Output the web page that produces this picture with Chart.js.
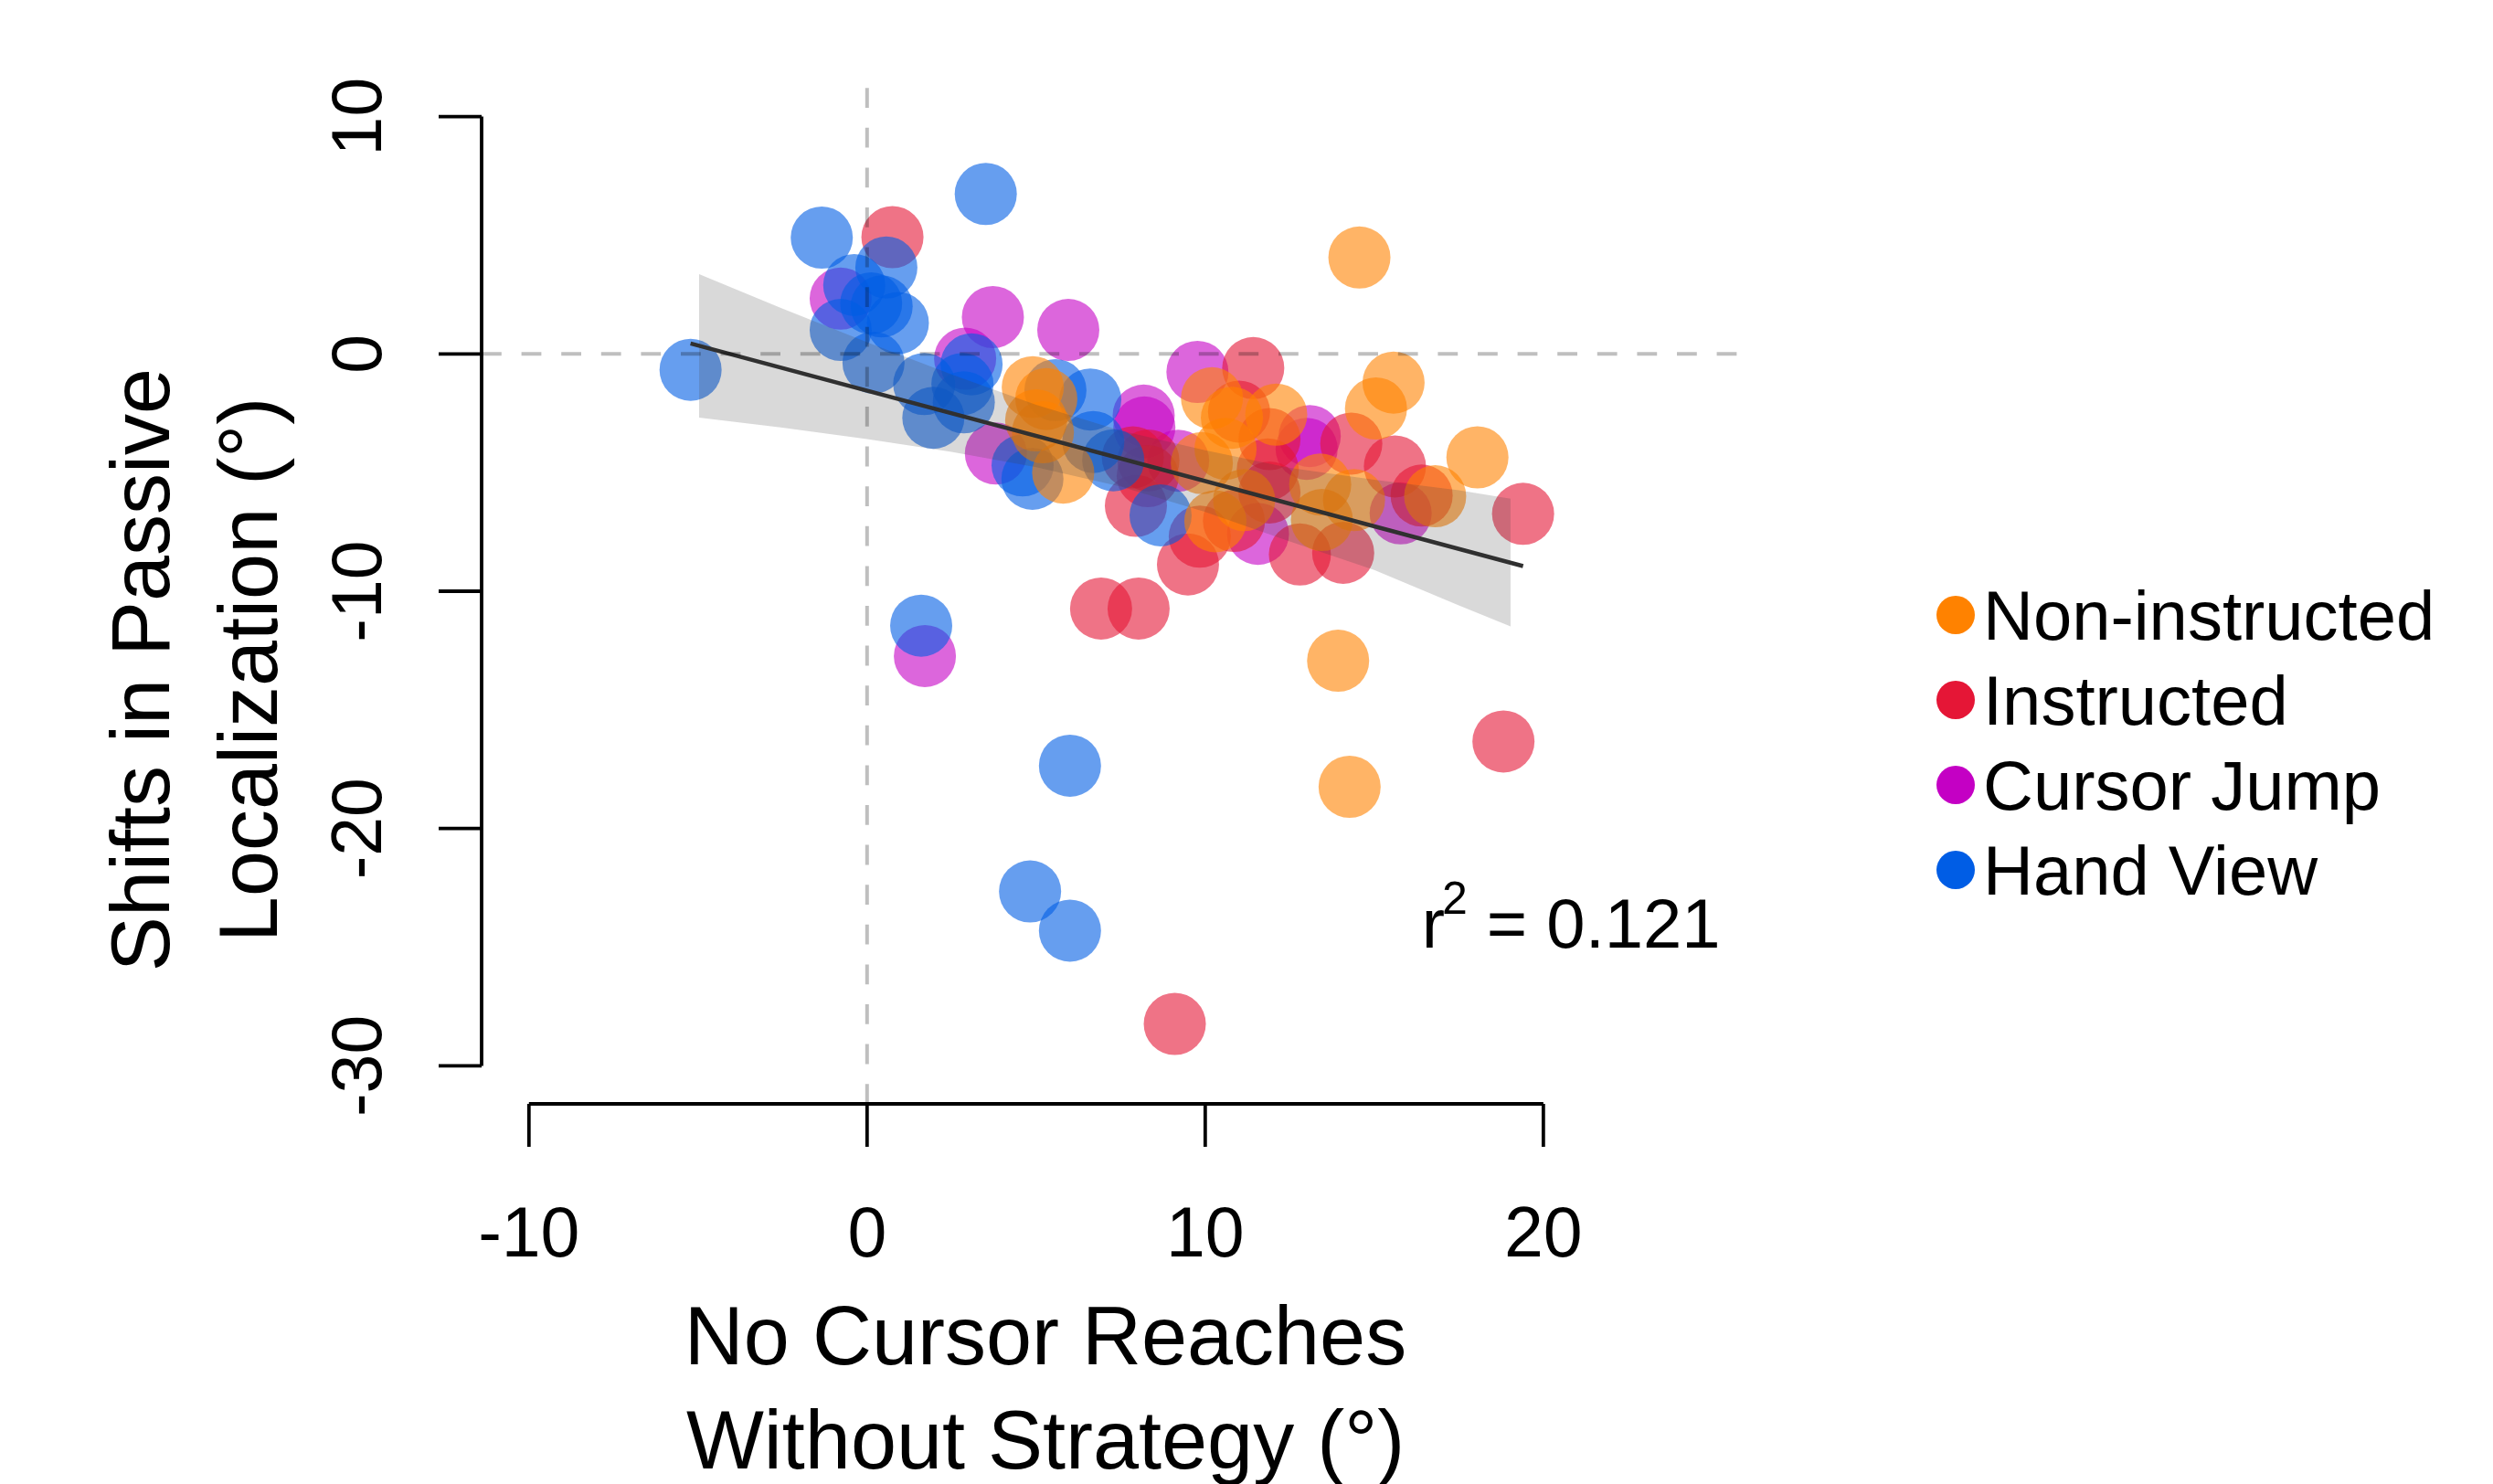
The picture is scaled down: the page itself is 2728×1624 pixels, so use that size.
<!DOCTYPE html>
<html>
<head>
<meta charset="utf-8">
<script src="https://cdn.jsdelivr.net/npm/chart.js@4.4.1/dist/chart.umd.min.js"></script>
<style>
    html, body { margin: 0; padding: 0; background: #ffffff; }
    #wrap { width: 2728px; height: 1624px; }
</style>
</head>
<body>
<div id="wrap"><canvas id="myChart" width="2728" height="1624"></canvas></div>
<script>
// values
var groupNames = ['Non-instructed', 'Instructed', 'Cursor Jump', 'Hand View'];
var groupColors = ['#FF8200', '#E51636', '#C400C4', '#005DE5'];

var nonInstructedX = [14.56, 15.57, 15.05, 18.05, 13.93, 14.27, 16.8, 13.4, 14.4, 13.45, 4.9, 5.3, 5.0, 5.2, 5.8, 10.2, 10.79, 12.1, 10.6, 9.9, 11.15, 10.3];
var nonInstructedY = [4.06, -1.21, -2.3, -4.36, -12.93, -18.24, -6.0, -5.5, -6.16, -7.0, -1.4, -1.9, -2.8, -3.3, -5.0, -1.87, -2.69, -2.56, -4.0, -4.6, -6.16, -7.05];

var instructedX = [0.75, 11.42, 6.92, 8.03, 9.1, 18.82, 19.4, 14.32, 15.61, 16.4, 12.8, 14.08, 7.86, 8.32, 7.95, 9.49, 11.0, 11.9, 11.85, 10.85, 8.3, 11.9, 9.84];
var instructedY = [4.92, -0.6, -10.73, -10.73, -28.23, -16.33, -6.74, -3.78, -4.74, -5.97, -8.45, -8.38, -4.36, -4.49, -6.4, -8.87, -2.43, -3.59, -4.87, -7.04, -5.15, -5.84, -7.7];

var cursorJumpX = [-0.78, 3.72, 5.95, 1.71, 3.81, 9.77, 8.18, 8.2, 13.09, 13.0, 15.78, 11.56, 9.2, 2.9];
var cursorJumpY = [2.33, 1.55, 1.01, -12.73, -4.2, -0.76, -2.6, -3.1, -3.46, -4.0, -6.72, -7.58, -4.5, -0.2];

var handViewX = [-5.22, -1.34, 3.51, -0.38, 0.57, 0.12, 0.43, 0.91, -0.78, 0.19, 1.69, 1.96, 3.09, 2.82, 2.86, 4.89, 4.6, 5.57, 6.6, 6.69, 7.28, 8.68, 1.6, 6.0, 4.82, 6.0];
var handViewY = [-0.67, 4.90, 6.74, 2.90, 3.64, 2.13, 2.0, 1.30, 1.01, -0.37, -1.27, -2.69, -0.44, -1.27, -2.04, -5.26, -4.7, -1.53, -1.92, -3.71, -4.48, -6.8, -11.45, -17.35, -22.65, -24.3];

// regression line and its band
var fitX = [-5.22, 19.4];
var fitY = [0.44, -8.94];
var bandX = [-4.97, -2.5, 0, 2.5, 5, 7.5, 10, 12.5, 15, 17.5, 19.03];
var bandUpper = [3.36, 1.91, 0.49, -0.87, -2.15, -3.23, -4.06, -4.8, -5.3, -5.75, -6.1];
var bandLower = [-2.68, -3.11, -3.59, -4.13, -4.77, -5.59, -6.66, -7.9, -9.1, -10.6, -11.48];

var xTicks = [-10, 0, 10, 20];
var yTicks = [10, 0, -10, -20, -30];
var xTitle = ['No Cursor Reaches', 'Without Strategy (°)'];
var yTitle = ['Shifts in Passive', 'Localization (°)'];
var r2Value = '0.121';

var FONT = '"Liberation Sans", Arial, Helvetica, sans-serif';

function zip(xs, ys) {
    return xs.map(function(x, i) { return {x: x, y: ys[i]}; });
}

function withAlpha(hex, a) {
    var n = parseInt(hex.slice(1), 16);
    return 'rgba(' + (n >> 16) + ',' + ((n >> 8) & 255) + ',' + (n & 255) + ',' + a + ')';
}

function rotText(ctx, str, x, y, size) {
    // vertical text reading bottom to top, (x,y) = centre of the cap height
    ctx.save();
    ctx.translate(x, y);
    ctx.rotate(-Math.PI / 2);
    ctx.font = size + 'px ' + FONT;
    ctx.textAlign = 'center';
    ctx.textBaseline = 'alphabetic';
    ctx.fillText(str, 0, size * 0.358);
    ctx.restore();
}

function flatText(ctx, str, x, y, size, align) {
    ctx.font = size + 'px ' + FONT;
    ctx.textAlign = align || 'center';
    ctx.textBaseline = 'alphabetic';
    ctx.fillText(str, x, y + size * 0.358);
}

var rPlot = {
    id: 'rPlot',
    afterDatasetsDraw: function(chart) {
        var ctx = chart.ctx, xs = chart.scales.x, ys = chart.scales.y;
        ctx.save();
        ctx.strokeStyle = 'rgba(0,0,0,0.25)';
        ctx.lineWidth = 4;
        ctx.setLineDash([21.8, 21.8]);
        ctx.beginPath();
        ctx.moveTo(xs.getPixelForValue(xs.min), ys.getPixelForValue(0));
        ctx.lineTo(xs.getPixelForValue(xs.max), ys.getPixelForValue(0));
        ctx.stroke();
        ctx.beginPath();
        ctx.moveTo(xs.getPixelForValue(0), ys.getPixelForValue(ys.min));
        ctx.lineTo(xs.getPixelForValue(0), ys.getPixelForValue(ys.max));
        ctx.stroke();
        ctx.restore();
    },
    afterDraw: function(chart) {
        var ctx = chart.ctx, xs = chart.scales.x, ys = chart.scales.y;
        var area = chart.chartArea;
        ctx.save();
        ctx.strokeStyle = '#000';
        ctx.fillStyle = '#000';
        ctx.lineWidth = 3.8;
        ctx.lineCap = 'butt';

        // y axis
        var ax = area.left;
        ctx.beginPath();
        ctx.moveTo(ax, ys.getPixelForValue(yTicks[0]));
        ctx.lineTo(ax, ys.getPixelForValue(yTicks[yTicks.length - 1]));
        ctx.stroke();
        yTicks.forEach(function(t) {
            var py = ys.getPixelForValue(t);
            ctx.beginPath();
            ctx.moveTo(ax, py);
            ctx.lineTo(ax - 47, py);
            ctx.stroke();
            rotText(ctx, String(t), ax - 138, py, 77);
        });

        // x axis
        var ay = area.bottom;
        ctx.beginPath();
        ctx.moveTo(xs.getPixelForValue(xTicks[0]), ay);
        ctx.lineTo(xs.getPixelForValue(xTicks[xTicks.length - 1]), ay);
        ctx.stroke();
        xTicks.forEach(function(t) {
            var px = xs.getPixelForValue(t);
            ctx.beginPath();
            ctx.moveTo(px, ay);
            ctx.lineTo(px, ay + 47);
            ctx.stroke();
            flatText(ctx, String(t), px, ay + 139, 77);
        });

        // axis titles
        flatText(ctx, xTitle[0], 1144, 1461, 90);
        flatText(ctx, xTitle[1], 1144, 1575, 90);
        rotText(ctx, yTitle[0], 153, 733, 90);
        rotText(ctx, yTitle[1], 271, 733, 90);

        // r squared
        var left = xs.getPixelForValue(16.4);
        var base = ys.getPixelForValue(-25.02);
        ctx.textAlign = 'left';
        ctx.textBaseline = 'alphabetic';
        ctx.font = '76px ' + FONT;
        ctx.fillText('r', left, base);
        var wr = ctx.measureText('r').width;
        ctx.font = '50px ' + FONT;
        ctx.fillText('2', left + wr - 3, base - 37);
        var w2 = ctx.measureText('2').width;
        ctx.font = '76px ' + FONT;
        ctx.fillText(' = ' + r2Value, left + wr - 3 + w2, base);

        // legend
        var ly = [673, 766, 859, 952];
        groupNames.forEach(function(name, i) {
            ctx.fillStyle = groupColors[i];
            ctx.beginPath();
            ctx.arc(2140, ly[i], 21, 0, Math.PI * 2);
            ctx.fill();
            ctx.fillStyle = '#000';
            flatText(ctx, name, 2170, ly[i], 76, 'left');
        });
        ctx.restore();
    }
};

function pointSet(label, xs, ys, color, order) {
    return {
        label: label,
        data: zip(xs, ys),
        backgroundColor: withAlpha(color, 0.6),
        borderWidth: 0,
        pointRadius: 34,
        pointHoverRadius: 34,
        order: order
    };
}

var ctx = document.getElementById('myChart');
var myChart = new Chart(ctx, {
    type: 'scatter',
    data: {
        datasets: [
            {
                type: 'line',
                label: 'fit',
                data: zip(fitX, fitY),
                borderColor: '#303030',
                borderWidth: 4.5,
                pointRadius: 0,
                fill: false,
                order: -2
            },
            {
                type: 'line',
                label: 'band upper',
                data: zip(bandX, bandUpper),
                borderWidth: 0,
                borderColor: 'rgba(0,0,0,0)',
                pointRadius: 0,
                backgroundColor: 'rgba(64,64,64,0.2)',
                fill: '+1',
                order: -1
            },
            {
                type: 'line',
                label: 'band lower',
                data: zip(bandX, bandLower),
                borderWidth: 0,
                borderColor: 'rgba(0,0,0,0)',
                pointRadius: 0,
                fill: false,
                order: -1
            },
            pointSet(groupNames[0], nonInstructedX, nonInstructedY, groupColors[0], 0),
            pointSet(groupNames[3], handViewX, handViewY, groupColors[3], 1),
            pointSet(groupNames[1], instructedX, instructedY, groupColors[1], 2),
            pointSet(groupNames[2], cursorJumpX, cursorJumpY, groupColors[2], 3)
        ]
    },
    options: {
        responsive: false,
        animation: false,
        events: [],
        layout: {
            padding: {left: 527, right: 819, top: 86, bottom: 416}
        },
        scales: {
            x: {type: 'linear', min: -11.4, max: 25.95, display: false},
            y: {type: 'linear', min: -31.6, max: 11.6, display: false}
        },
        plugins: {
            legend: {display: false},
            tooltip: {enabled: false}
        }
    },
    plugins: [rPlot]
});
</script>
</body>
</html>
